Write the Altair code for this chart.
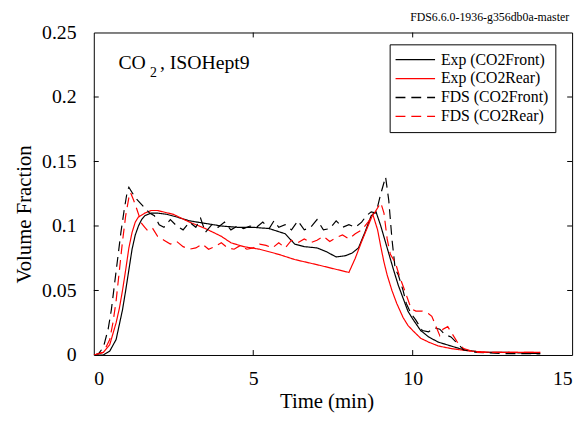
import altair as alt
import pandas as pd

series_names = ["Exp (CO2Front)", "Exp (CO2Rear)", "FDS (CO2Front)", "FDS (CO2Rear)"]
series_colors = ["#000000", "#ff0000", "#000000", "#ff0000"]
series_dashes = [[1, 0], [1, 0], [10, 6], [10, 6]]

exp_front_t = [0, 0.3, 0.5, 0.7, 0.9, 1.0, 1.1, 1.2, 1.3, 1.4, 1.5, 1.6, 1.8, 2.0, 2.3, 2.6, 3.0, 3.5, 4.0,
               4.5, 5.0, 5.5, 6.0, 6.3, 6.6, 7.0, 7.3, 7.6, 7.9, 8.1, 8.3, 8.5, 8.7, 8.85, 9.0, 9.2, 9.4,
               9.55, 9.7, 9.85, 10.0, 10.25, 10.5, 10.8, 11.2, 11.6, 12.2, 13.0, 14.0]
exp_front_v = [0, 0.0, 0.003, 0.012, 0.035, 0.05, 0.066, 0.082, 0.093, 0.100, 0.105, 0.108, 0.110, 0.110,
               0.109, 0.107, 0.104, 0.102, 0.100, 0.099, 0.099, 0.098, 0.094, 0.086, 0.084, 0.083, 0.080,
               0.076, 0.077, 0.079, 0.083, 0.095, 0.108, 0.111, 0.100, 0.083, 0.066, 0.054, 0.044, 0.034,
               0.028, 0.019, 0.014, 0.010, 0.007, 0.004, 0.002, 0.002, 0.001]

exp_rear_t = [0, 0.3, 0.5, 0.7, 0.8, 0.9, 1.0, 1.1, 1.2, 1.3, 1.4, 1.6, 1.8, 2.0, 2.5, 3.0, 3.5, 4.0, 4.3,
              4.7, 5.2, 5.8, 6.3, 7.0, 7.5, 8.0, 8.2, 8.4, 8.6, 8.75, 8.9, 9.0, 9.1, 9.2, 9.35, 9.5, 9.7,
              9.85, 10.0, 10.25, 10.5, 10.8, 11.2, 11.8, 12.5, 14.0]
exp_rear_v = [0, 0.002, 0.008, 0.025, 0.036, 0.05, 0.066, 0.083, 0.095, 0.103, 0.107, 0.110, 0.112, 0.112,
              0.109, 0.103, 0.098, 0.092, 0.087, 0.084, 0.082, 0.078, 0.074, 0.070, 0.067, 0.064, 0.075,
              0.088, 0.100, 0.109, 0.097, 0.084, 0.072, 0.062, 0.050, 0.040, 0.029, 0.023, 0.019, 0.013,
              0.010, 0.007, 0.005, 0.003, 0.002, 0.002]

fds_front_t = [0, 0.15, 0.3, 0.45, 0.55, 0.65, 0.75, 0.85, 0.95, 1.05, 1.1, 1.2, 1.3, 1.45, 1.6, 1.75, 1.9,
               2.05, 2.2, 2.4, 2.6, 2.8, 3.0, 3.2, 3.35, 3.5, 3.7, 3.9, 4.1, 4.3, 4.5, 4.7, 4.9, 5.1, 5.3,
               5.5, 5.65, 5.8, 6.0, 6.2, 6.4, 6.6, 6.8, 7.0, 7.2, 7.4, 7.6, 7.8, 8.0, 8.2, 8.4, 8.55, 8.7,
               8.85, 9.0, 9.15, 9.25, 9.35, 9.45, 9.55, 9.7, 9.8, 9.95, 10.1, 10.3, 10.5, 10.7, 10.85,
               11.0, 11.2, 11.4, 11.6, 12.0, 13.0, 14.0]
fds_front_v = [0, 0.001, 0.006, 0.02, 0.035, 0.055, 0.075, 0.095, 0.112, 0.127, 0.130, 0.126, 0.122, 0.118,
               0.114, 0.110, 0.108, 0.101, 0.099, 0.105, 0.100, 0.097, 0.103, 0.099, 0.106, 0.095, 0.101,
               0.099, 0.103, 0.097, 0.100, 0.098, 0.100, 0.099, 0.103, 0.098, 0.104, 0.099, 0.101, 0.097,
               0.104, 0.097, 0.099, 0.105, 0.097, 0.098, 0.104, 0.099, 0.101, 0.099, 0.103, 0.108, 0.111,
               0.110, 0.125, 0.138, 0.120, 0.090, 0.067, 0.062, 0.050, 0.040, 0.032, 0.027, 0.019, 0.018,
               0.021, 0.020, 0.016, 0.014, 0.009, 0.004, 0.002, 0.001, 0.001]

fds_rear_t = [0, 0.3, 0.5, 0.6, 0.7, 0.8, 0.9, 1.0, 1.1, 1.15, 1.25, 1.35, 1.5, 1.6, 1.7, 1.85, 2.0, 2.2,
              2.4, 2.6, 2.8, 3.0, 3.2, 3.4, 3.6, 3.8, 4.0, 4.2, 4.4, 4.6, 4.8, 5.0, 5.2, 5.4, 5.6, 5.8,
              6.0, 6.2, 6.4, 6.6, 6.8, 7.0, 7.2, 7.4, 7.6, 7.8, 8.0, 8.2, 8.4, 8.6, 8.8, 9.0, 9.1, 9.2,
              9.3, 9.45, 9.6, 9.75, 9.85, 9.95, 10.1, 10.3, 10.5, 10.6, 10.7, 10.85, 10.95, 11.1, 11.25,
              11.4, 11.6, 12.0, 14.0]
fds_rear_v = [0, 0.002, 0.012, 0.025, 0.042, 0.065, 0.088, 0.108, 0.122, 0.126, 0.120, 0.113, 0.102, 0.099,
              0.096, 0.098, 0.092, 0.089, 0.086, 0.088, 0.084, 0.082, 0.083, 0.086, 0.082, 0.084, 0.087,
              0.083, 0.082, 0.085, 0.082, 0.083, 0.086, 0.085, 0.083, 0.087, 0.083, 0.089, 0.087, 0.090,
              0.087, 0.089, 0.092, 0.088, 0.091, 0.093, 0.090, 0.094, 0.097, 0.103, 0.110, 0.118, 0.110,
              0.090, 0.078, 0.072, 0.060, 0.050, 0.043, 0.036, 0.034, 0.034, 0.032, 0.030, 0.024, 0.015,
              0.020, 0.022, 0.016, 0.010, 0.005, 0.002, 0.002]

x_tick_values = [0, 5, 10, 15]
y_tick_values = [0, 0.05, 0.1, 0.15, 0.2, 0.25]
inner_x_ticks = [5, 10]
inner_y_ticks = [0.05, 0.1, 0.15, 0.2]

W, H = 485, 327
FONT = "Liberation Serif, Times New Roman, DejaVu Serif, serif"

rows = []
for name, ts, vs in zip(series_names,
                        [exp_front_t, exp_rear_t, fds_front_t, fds_rear_t],
                        [exp_front_v, exp_rear_v, fds_front_v, fds_rear_v]):
    for i, (t, v) in enumerate(zip(ts, vs)):
        rows.append({"series": name, "t": t, "v": v, "idx": i})
df = pd.DataFrame(rows)

legend = alt.Legend(orient="none", legendX=300, legendY=12, title=None,
                    strokeColor="black", fillColor="white", padding=7,
                    labelFont=FONT, labelFontSize=16, labelColor="black", labelLimit=400,
                    labelExpr="datum.label + '\u00a0\u00a0\u00a0\u00a0\u00a0'",
                    symbolType="M-1.27,0H4.07", symbolSize=225, symbolStrokeWidth=1.3,
                    rowPadding=2.2, labelOffset=28)

xscale = alt.Scale(domain=[0, 15], nice=False, zero=False)
yscale = alt.Scale(domain=[0, 0.25], nice=False)

lines = alt.Chart(df).mark_line(strokeWidth=1.2, clip=True).encode(
    x=alt.X("t:Q", scale=xscale,
            axis=alt.Axis(values=x_tick_values, title="Time (min)", ticks=False, domain=False,
                          grid=False, labelPadding=24, labelBaseline="middle",
                          titleY=53, titleX=236, titleBaseline="alphabetic")),
    y=alt.Y("v:Q", scale=yscale,
            axis=alt.Axis(values=y_tick_values, format="~g", title="Volume Fraction", ticks=False,
                          domain=False, grid=False, labelPadding=18, labelBaseline="middle",
                          titleX=-70, titleY=184, titleAngle=270, titleBaseline="middle",
                          titleAlign="center")),
    color=alt.Color("series:N", scale=alt.Scale(domain=series_names, range=series_colors),
                    legend=legend),
    strokeDash=alt.StrokeDash("series:N", scale=alt.Scale(domain=series_names, range=series_dashes),
                              legend=legend),
    order="idx:Q",
)

xt = pd.DataFrame({"t": inner_x_ticks})
yt = pd.DataFrame({"v": inner_y_ticks})
tick_bottom = alt.Chart(xt).mark_rule(color="black", strokeWidth=1).encode(
    x="t:Q", y=alt.value(H), y2=alt.value(H - 5))
tick_top = alt.Chart(xt).mark_rule(color="black", strokeWidth=1).encode(
    x="t:Q", y=alt.value(0), y2=alt.value(5))
tick_left = alt.Chart(yt).mark_rule(color="black", strokeWidth=1).encode(
    y="v:Q", x=alt.value(0), x2=alt.value(5))
tick_right = alt.Chart(yt).mark_rule(color="black", strokeWidth=1).encode(
    y="v:Q", x=alt.value(W), x2=alt.value(W - 5))

ann = pd.DataFrame({"a": ["CO"], "b": ["2"], "c": [", ISOHept9"], "d": ["FDS6.6.0-1936-g356db0a-master"]})
txt_co = alt.Chart(ann).mark_text(font=FONT, fontSize=20, align="left", baseline="alphabetic",
                                  color="black").encode(text="a:N", x=alt.value(25), y=alt.value(37))
txt_2 = alt.Chart(ann).mark_text(font=FONT, fontSize=14, align="left", baseline="alphabetic",
                                 color="black").encode(text="b:N", x=alt.value(57), y=alt.value(45))
txt_rest = alt.Chart(ann).mark_text(font=FONT, fontSize=20, align="left", baseline="alphabetic",
                                    color="black").encode(text="c:N", x=alt.value(67), y=alt.value(37))
txt_hdr = alt.Chart(ann).mark_text(font=FONT, fontSize=12, align="right", baseline="alphabetic",
                                   color="black").encode(text="d:N", x=alt.value(482), y=alt.value(-12))

chart = alt.layer(lines, tick_bottom, tick_top, tick_left, tick_right,
                  txt_co, txt_2, txt_rest, txt_hdr).properties(
    width=W, height=H,
    autosize=alt.AutoSizeParams(type="none"),
    padding={"left": 87, "top": 22, "right": 8, "bottom": 58},
    background="white",
).configure_view(stroke="black", strokeWidth=1).configure_axis(
    labelFont=FONT, labelFontSize=20, labelColor="black",
    titleFont=FONT, titleFontSize=21, titleFontWeight="normal", titleColor="black",
)

chart.save("out.html", embed_options={"renderer": "svg", "actions": False})
